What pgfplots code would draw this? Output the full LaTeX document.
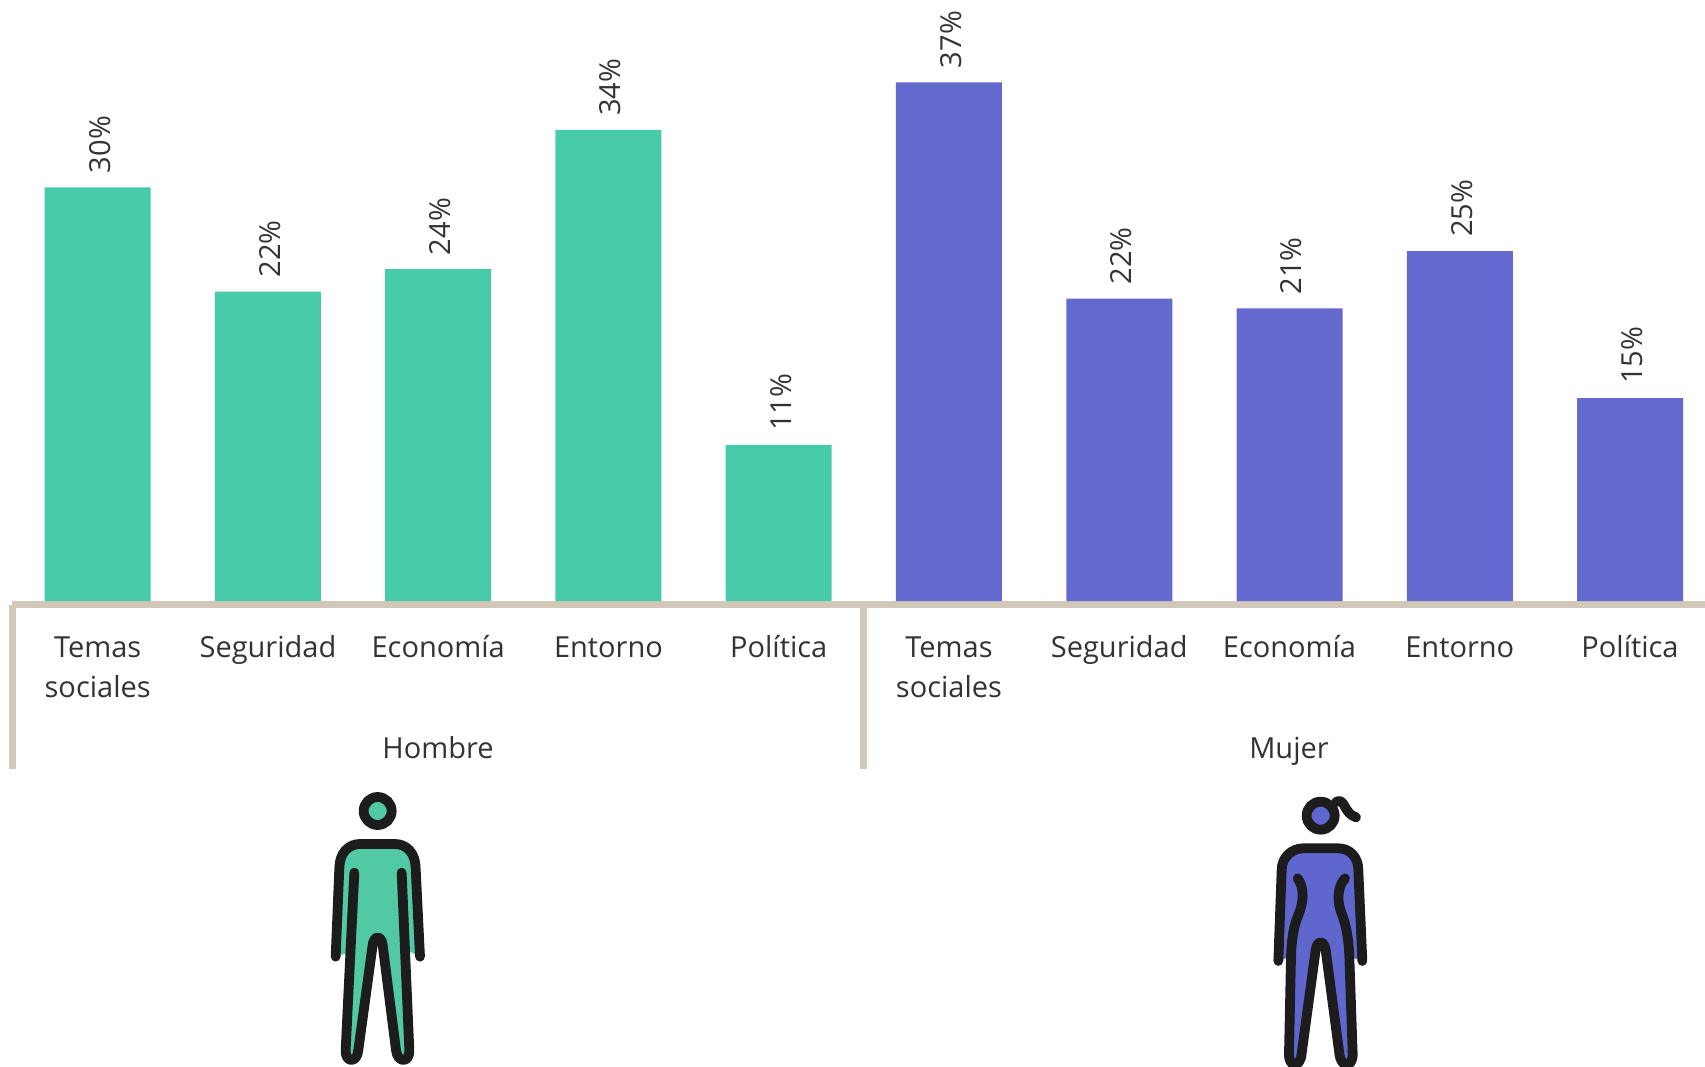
\documentclass[border=0pt]{standalone}
\usepackage{pgfplots}
\usepackage{pgfplotstable}
\usepackage{fontspec}
\setmainfont{Open Sans}
\pgfplotsset{compat=1.18}
\definecolor{hgreen}{HTML}{48CBA8}
\definecolor{mblue}{HTML}{6469D0}
\definecolor{igreen}{HTML}{50C9A4}
\definecolor{iblue}{HTML}{5F66CE}
\definecolor{beige}{HTML}{D2C8B9}
\definecolor{ink}{HTML}{333333}
\definecolor{icon}{HTML}{1C1C1C}
\newcommand\st{\rule{0pt}{24pt}}
\pgfplotstableread{
x y lab
0 29.55 30
1 22.1 22
2 23.7 24
3 33.65 34
4 11.15 11
}\hombre
\pgfplotstableread{
x y lab
5 37.05 37
6 21.6 22
7 20.9 21
8 25.0 25
9 14.5 15
}\mujer
\begin{document}
\begin{tikzpicture}[x=1pt,y=1pt]
\path[use as bounding box] (0,0) rectangle (1705,-1067);
% frame of the axis
\fill[beige] (12,-601) rectangle (1705,-608);
\fill[beige] (9,-605) rectangle (16,-769);
\fill[beige] (860,-605) rectangle (867,-769);
\begin{axis}[
  at={(0pt,-601pt)}, anchor=south west,
  scale only axis, width=1705pt, height=601pt,
  xmin=-0.5738, xmax=9.44, ymin=0, ymax=42.93,
  clip=false,
  axis y line=none,
  axis x line=bottom,
  x axis line style={draw=none,-},
  major tick length=0pt,
  xtick={0,...,9},
  xticklabels={{\st Temas\\sociales},\st Seguridad,\st Economía,\st Entorno,\st Política,{\st Temas\\sociales},\st Seguridad,\st Economía,\st Entorno,\st Política},
  xticklabel style={font=\fontsize{29}{39.3}\selectfont, text=ink, align=center, anchor=north, inner sep=0pt, yshift=-32.5pt},
  ybar, bar width=106pt, bar shift=0pt,
  point meta=explicit symbolic,
  nodes near coords={\pgfplotspointmeta\%},
  nodes near coords style={rotate=90, anchor=west, font=\fontsize{29}{32}\selectfont, text=ink, inner sep=0pt, xshift=14pt, yshift=-2pt},
]
\addplot[fill=hgreen, draw=none] table[x=x, y=y, meta=lab] {\hombre};
\addplot[fill=mblue, draw=none] table[x=x, y=y, meta=lab] {\mujer};
\end{axis}
\node[font=\fontsize{29}{39}\selectfont, text=ink, anchor=base] at (438,-758.5) {Hombre};
\node[font=\fontsize{29}{39}\selectfont, text=ink, anchor=base] at (1289,-758.5) {Mujer};
% man icon (coordinates in a 3x grid)
\begin{scope}[shift={(300,-770)}, x=0.3333pt, y=-0.3333pt, line width=9.8pt, line cap=round, line join=round]
  \fill[igreen] (107,560) -- (118,295) .. controls (118,250) and (145,222) .. (180,222) -- (285,222) .. controls (320,222) and (347,250) .. (347,295) -- (360,560) -- (330,545) -- (328,840) .. controls (330,880) and (292,880) .. (288,840) -- (248,525) -- (218,525) -- (175,840) .. controls (172,880) and (135,880) .. (137,840) -- (140,550) -- cycle;
  \draw[icon, fill=igreen] (233,123) circle[radius=42];
  \draw[icon] (107,560) -- (118,295) .. controls (118,250) and (145,222) .. (180,222) -- (285,222) .. controls (320,222) and (347,250) .. (347,295) -- (360,560);
  \draw[icon] (163,308) -- (137,840) .. controls (135,880) and (172,880) .. (175,840) -- (218,525) .. controls (222,495) and (244,495) .. (248,525) -- (288,840) .. controls (292,880) and (330,880) .. (328,840) -- (305,308);
\end{scope}
% woman icon
\begin{scope}[shift={(1250,-780)}, x=0.3333pt, y=-0.3333pt, line width=9.8pt, line cap=round, line join=round]
  \fill[iblue] (85,543) -- (95,270) .. controls (95,232) and (125,205) .. (160,205) -- (265,205) .. controls (300,205) and (325,232) .. (325,270) -- (337,543) -- (300,530) -- (308,820) .. controls (310,865) and (272,865) .. (268,820) -- (227,510) -- (197,510) -- (155,820) .. controls (152,865) and (115,865) .. (117,820) -- (122,530) -- cycle;
  \draw[icon, fill=iblue] (212,107) circle[radius=42];
  \draw[icon] (258,66) .. controls (285,50) and (280,100) .. (318,112);
  \draw[icon] (85,543) -- (95,270) .. controls (95,232) and (125,205) .. (160,205) -- (265,205) .. controls (300,205) and (325,232) .. (325,270) -- (337,543);
  \draw[icon] (143,295) .. controls (165,325) and (160,370) .. (145,405) .. controls (130,440) and (125,480) .. (123,530) -- (117,820) .. controls (115,865) and (152,865) .. (155,820) -- (197,510) .. controls (201,480) and (223,480) .. (227,510) -- (268,820) .. controls (272,865) and (310,865) .. (308,820) -- (298,530) .. controls (296,480) and (290,440) .. (275,400) .. controls (260,365) and (262,320) .. (285,295);
\end{scope}
\end{tikzpicture}
\end{document}
